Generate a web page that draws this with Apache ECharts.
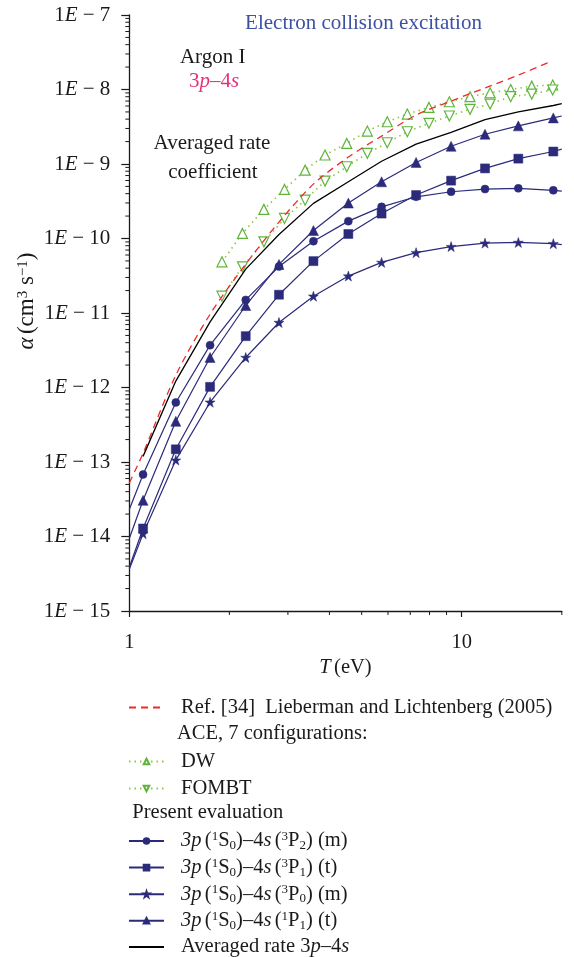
<!DOCTYPE html>
<html><head><meta charset="utf-8">
<script src="https://cdn.jsdelivr.net/npm/echarts@6/dist/echarts.min.js"></script>
<style>html,body{margin:0;padding:0;background:#fff}#c{width:574px;height:957px}</style>
</head><body><div id="c"></div><script>
// ---------- data ----------
// Present evaluation: temperatures (eV); first and last points are line ends at the axes (no marker)
const T_present = [1, 1.1, 1.38, 1.75, 2.24, 2.82, 3.58, 4.56, 5.74, 7.29, 9.29, 11.75, 14.8, 18.86, 20];
const rate_3P2_m = [2.30e-14, 6.8e-14, 6.3e-13, 3.7e-12, 1.5e-11, 4.2e-11, 9.2e-11, 1.71e-10, 2.66e-10, 3.63e-10, 4.24e-10, 4.60e-10, 4.71e-10, 4.43e-10, 4.33e-10];
const rate_3P1_t = [3.86e-15, 1.28e-14, 1.48e-13, 1.02e-12, 4.89e-12, 1.76e-11, 4.97e-11, 1.15e-10, 2.16e-10, 3.83e-10, 5.98e-10, 8.73e-10, 1.18e-9, 1.47e-9, 1.58e-9];
const rate_3P0_m = [3.63e-15, 1.09e-14, 1.06e-13, 6.35e-13, 2.53e-12, 7.46e-12, 1.68e-11, 3.13e-11, 4.78e-11, 6.46e-11, 7.78e-11, 8.67e-11, 8.85e-11, 8.53e-11, 8.28e-11];
const rate_1P1_t = [9.38e-15, 3.06e-14, 3.52e-13, 2.53e-12, 1.26e-11, 4.49e-11, 1.28e-10, 2.99e-10, 5.77e-10, 1.05e-9, 1.73e-9, 2.51e-9, 3.25e-9, 4.16e-9, 4.41e-9];

const T_avg = [1.1, 1.38, 1.75, 2.24, 2.82, 3.58, 4.56, 5.74, 7.29, 9.29, 11.75, 14.8, 18.86, 20];
const rate_avg = [1.19e-13, 1.22e-12, 7.60e-12, 3.88e-11, 1.13e-10, 2.96e-10, 5.77e-10, 1.09e-9, 1.85e-9, 2.66e-9, 3.95e-9, 5.02e-9, 6.10e-9, 6.47e-9];

const T_lieb = [1, 1.1, 1.38, 1.75, 2.24, 2.82, 3.58, 4.56, 5.74, 7.29, 9.29, 11.75, 14.8, 18.44];
const rate_lieb = [5.24e-14, 1.31e-13, 1.46e-12, 9.64e-12, 4.53e-11, 1.66e-10, 5.37e-10, 1.24e-9, 2.37e-9, 4.54e-9, 7.0e-9, 1.05e-8, 1.56e-8, 2.36e-8];

const T_ace = [1.9, 2.19, 2.54, 2.93, 3.38, 3.88, 4.51, 5.2, 5.97, 6.86, 7.97, 9.18, 10.59, 12.17, 14.04, 16.24, 18.78];
const rate_DW = [4.86e-11, 1.17e-10, 2.46e-10, 4.56e-10, 8.28e-10, 1.32e-9, 1.89e-9, 2.77e-9, 3.69e-9, 4.68e-9, 5.75e-9, 6.85e-9, 8.0e-9, 9.04e-9, 1.0e-8, 1.11e-8, 1.15e-8];
const rate_FOMBT = [1.68e-11, 4.17e-11, 9.02e-11, 1.86e-10, 3.27e-10, 5.90e-10, 9.19e-10, 1.39e-9, 1.93e-9, 2.71e-9, 3.52e-9, 4.41e-9, 5.42e-9, 6.38e-9, 8.0e-9, 8.69e-9, 9.84e-9];

// axis ticks
const xMajorTicks = [1, 10];
const xMinorTicks = [2, 3, 4, 5, 6, 7, 8, 9, 20];
const yMajorTicks = [1e-15, 1e-14, 1e-13, 1e-12, 1e-11, 1e-10, 1e-9, 1e-8, 1e-7];
const yMinorMantissas = [2, 3, 4, 5, 6, 7, 8, 9];

// ---------- styling ----------
const FONT = '"Liberation Serif", "Times New Roman", serif';
const FS = 20.5;
const NAVY = '#2b2a7b';
const GREEN = '#5fb53c';
const GREEN_DOT = '#8dc63f';
const RED = '#ee2a2a';
const INK = '#1a1a1a';

function rich(color, size, supSize) {
  const ss = supSize || 13;
  return {
    n: {fontFamily: FONT, fontSize: size, color: color, fill: color, lineHeight: 22},
    i: {fontFamily: FONT, fontSize: size, fontStyle: 'italic', color: color, fill: color, lineHeight: 22},
    sup: {fontFamily: FONT, fontSize: ss, color: color, fill: color, verticalAlign: 'top', lineHeight: 14},
    sub: {fontFamily: FONT, fontSize: ss, color: color, fill: color, verticalAlign: 'bottom', lineHeight: 14}
  };
}

function pairs(xs, ys, endsBare) {
  return xs.map((x, i) => {
    if (endsBare && (i === 0 || i === xs.length - 1)) return {value: [x, ys[i]], symbol: 'none'};
    return [x, ys[i]];
  });
}

const yMinorValues = [];
for (let k = 8; k <= 15; k++) {
  yMinorMantissas.forEach(m => yMinorValues.push(+(m + 'e-' + k)));
}

const legendNames = {
  'lieb': '{n|Ref. [34]  Lieberman and Lichtenberg (2005)}',
  'DW': '{n|DW}',
  'FOMBT': '{n|FOMBT}',
  '3P2': '{i|3p} {n|(}{sup|1}{n|S}{sub|0}{n|)–4}{i|s} {n|(}{sup|3}{n|P}{sub|2}{n|) (m)}',
  '3P1': '{i|3p} {n|(}{sup|1}{n|S}{sub|0}{n|)–4}{i|s} {n|(}{sup|3}{n|P}{sub|1}{n|) (t)}',
  '3P0': '{i|3p} {n|(}{sup|1}{n|S}{sub|0}{n|)–4}{i|s} {n|(}{sup|3}{n|P}{sub|0}{n|) (m)}',
  '1P1': '{i|3p} {n|(}{sup|1}{n|S}{sub|0}{n|)–4}{i|s} {n|(}{sup|1}{n|P}{sub|1}{n|) (t)}',
  'avg': '{n|Averaged rate 3}{i|p}{n|–4}{i|s}'
};

const legendCommon = {
  orient: 'vertical', left: 128, padding: 0, itemWidth: 35, itemHeight: 7, itemGap: 4.6,
  selectedMode: false,
  formatter: name => legendNames[name],
  textStyle: {rich: rich(INK, FS), padding: [0, 0, 0, 12]}
};

function blueSeries(name, symbol, size, vals) {
  return {
    name: name, type: 'line', data: pairs(T_present, vals, true),
    symbol: symbol, symbolSize: size, showAllSymbol: true,
    lineStyle: {color: NAVY, width: 1.2}, itemStyle: {color: NAVY, borderColor: NAVY, borderWidth: 0.5},
    z: 4, animation: false
  };
}

const option = {
  animation: false,
  backgroundColor: '#fff',
  grid: {left: 129.3, top: 15, right: 12.2, bottom: 346, containLabel: false},
  xAxis: {
    type: 'log', logBase: 10, min: 1, max: 20,
    axisLine: {show: true, lineStyle: {color: INK, width: 1.3}},
    axisTick: {show: true, customValues: xMajorTicks, length: 6, lineStyle: {color: INK, width: 1.2}},
    axisLabel: {customValues: xMajorTicks, margin: 21, fontFamily: FONT, fontSize: FS, color: INK,
      formatter: v => String(Math.round(v))},
    splitLine: {show: false}, minorTick: {show: false}
  },
  yAxis: {
    type: 'log', logBase: 10, min: 1e-15, max: 1e-7,
    axisLine: {show: true, lineStyle: {color: INK, width: 1.3}},
    axisTick: {show: true, customValues: yMajorTicks, length: 8, lineStyle: {color: INK, width: 1.2}},
    axisLabel: {customValues: yMajorTicks, margin: 19, rich: rich(INK, 21),
      formatter: v => '{n|1}{i|E}{n| − ' + (-Math.round(Math.log10(v))) + '}'},
    splitLine: {show: false}, minorTick: {show: false}
  },
  legend: [
    Object.assign({}, legendCommon, {top: 697, data: [{name: 'lieb', itemStyle: {opacity: 0}}]}),
    Object.assign({}, legendCommon, {top: 751, itemGap: 6, data: ['DW', 'FOMBT']}),
    Object.assign({}, legendCommon, {top: 830, data: ['3P2', '3P1', '3P0', '1P1', {name: 'avg', itemStyle: {opacity: 0}}]})
  ],
  graphic: [
    {type: 'text', x: 363.5, y: 23, style: {text: 'Electron collision excitation', fill: '#3d50a2', font: '21px ' + FONT, align: 'center', verticalAlign: 'middle'}},
    {type: 'text', x: 212.7, y: 57, style: {text: 'Argon I', fill: INK, font: '21px ' + FONT, align: 'center', verticalAlign: 'middle'}},
    {type: 'text', x: 214, y: 81, style: {text: '{n|3}{i|p}{n|–4}{i|s}', rich: rich('#e6317a', 21), align: 'center', verticalAlign: 'middle'}},
    {type: 'text', x: 212, y: 143, style: {text: 'Averaged rate', fill: INK, font: '21px ' + FONT, align: 'center', verticalAlign: 'middle'}},
    {type: 'text', x: 213, y: 172, style: {text: 'coefficient', fill: INK, font: '21px ' + FONT, align: 'center', verticalAlign: 'middle'}},
    {type: 'text', x: 345.5, y: 668, style: {text: '{i|T} {n|(eV)}', rich: rich(INK, FS), align: 'center', verticalAlign: 'middle'}},
    {type: 'text', x: 27, y: 301, rotation: Math.PI / 2, style: {text: '{i|α} {n|(cm}{sup|3}{n| s}{sup|−1}{n|)}', rich: rich(INK, 23, 15), align: 'center', verticalAlign: 'middle'}},
    {type: 'text', x: 177, y: 733.3, style: {text: 'ACE, 7 configurations:', fill: INK, font: FS + 'px ' + FONT, align: 'left', verticalAlign: 'middle'}},
    {type: 'text', x: 132.3, y: 812.7, style: {text: 'Present evaluation', fill: INK, font: FS + 'px ' + FONT, align: 'left', verticalAlign: 'middle'}}
  ],
  series: [
    {
      name: 'lieb', type: 'line', data: pairs(T_lieb, rate_lieb, false), symbol: 'none', smooth: 0.3,
      lineStyle: {color: RED, width: 1.3, type: [7, 5]}, itemStyle: {color: RED}, z: 3
    },
    {
      name: 'DW', type: 'line', data: pairs(T_ace, rate_DW, false), symbol: 'triangle', symbolSize: 10,
      lineStyle: {color: GREEN_DOT, width: 1.6, type: [1.5, 4]},
      itemStyle: {color: '#fff', borderColor: GREEN, borderWidth: 1.2}, z: 2
    },
    {
      name: 'FOMBT', type: 'line', data: pairs(T_ace, rate_FOMBT, false), symbol: 'triangle', symbolRotate: 180, symbolSize: 10,
      lineStyle: {color: GREEN_DOT, width: 1.6, type: [1.5, 4]},
      itemStyle: {color: '#fff', borderColor: GREEN, borderWidth: 1.2}, z: 2
    },
    blueSeries('3P2', 'circle', 8, rate_3P2_m),
    blueSeries('3P1', 'rect', 9, rate_3P1_t),
    blueSeries('3P0', 'path://M50,0 L61.8,35.1 L99,35.1 L69,57 L80.9,92.7 L50,71 L19.1,92.7 L31,57 L1,35.1 L38.2,35.1 Z', 10, rate_3P0_m),
    blueSeries('1P1', 'triangle', 10, rate_1P1_t),
    {
      name: 'avg', type: 'line', data: pairs(T_avg, rate_avg, false), symbol: 'none',
      lineStyle: {color: '#000', width: 1.3}, itemStyle: {color: '#000'}, z: 3
    },
    {
      name: 'xminor', type: 'custom', coordinateSystem: 'cartesian2d', clip: false, silent: true,
      data: xMinorTicks.map(v => [v, 1e-15]),
      renderItem: (params, api) => {
        const p = api.coord([api.value(0), api.value(1)]);
        return {type: 'line', shape: {x1: p[0], y1: p[1], x2: p[0], y2: p[1] + 4}, style: {stroke: INK, lineWidth: 1}};
      }
    },
    {
      name: 'yminor', type: 'custom', coordinateSystem: 'cartesian2d', clip: false, silent: true,
      data: yMinorValues.map(v => [1, v]),
      renderItem: (params, api) => {
        const p = api.coord([api.value(0), api.value(1)]);
        return {type: 'line', shape: {x1: p[0] - 4, y1: p[1], x2: p[0], y2: p[1]}, style: {stroke: INK, lineWidth: 1}};
      }
    }
  ]
};

const chart = echarts.init(document.getElementById('c'), null, {renderer: 'canvas'});
chart.setOption(option);
</script></body></html>
